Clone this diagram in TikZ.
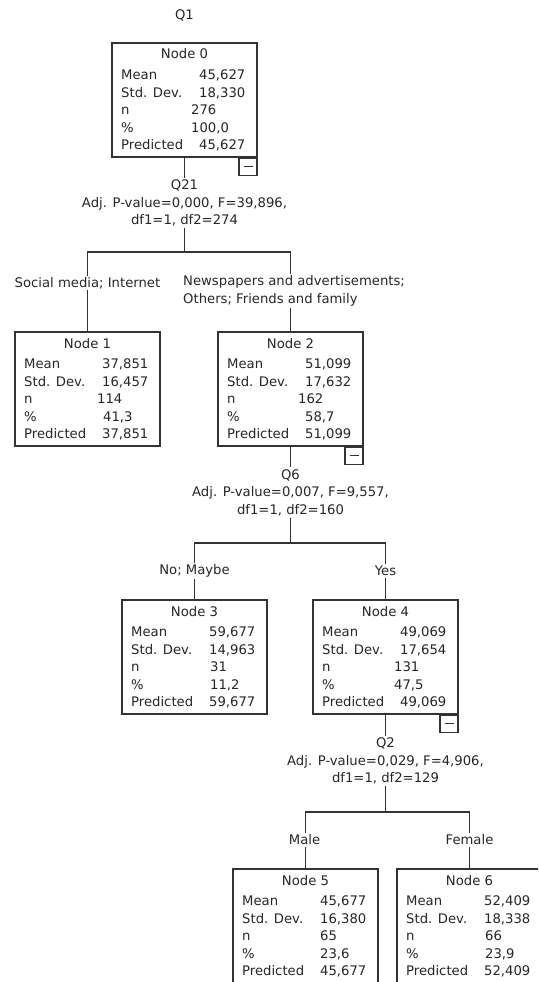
\documentclass[tikz,border=0pt]{standalone}
\usepackage{fontspec}
\setmainfont{DejaVu Sans}
\definecolor{ink}{HTML}{262626}
\definecolor{edge}{HTML}{333333}
\newcommand\fs{\fontsize{13.2}{17.5}\selectfont}
\tikzset{
  box/.style={draw=edge, line width=1.4pt, fill=white, minimum width=145pt, minimum height=114pt, inner sep=0pt},
  minbox/.style={draw=edge, line width=1.4pt, fill=white, minimum width=18pt, minimum height=17pt, inner sep=0pt},
  txt/.style={text=ink, inner sep=0pt, font=\fs},
  lbl/.style={text=ink, inner sep=1.5pt, font=\fs},
  split/.style={text=ink, inner sep=2pt, font=\fs, align=center},
  conn/.style={draw=edge, line width=1.4pt},
}
% #1 number, #2 left, #3 top, #4 mean, #5 sd, #6 n x-offset, #7 n, #8 pct x-offset, #9 pct
\newcommand\TNode[9]{%
  \node[box] (n#1) at ({#2+72.5},{#3+57}) {};
  \node[txt, anchor=base] (n#1t) at ({#2+72.5},{#3+16}) {Node #1};
  \node[txt, anchor=base west] (n#1a) at ({#2+9},{#3+36}) {Mean};
  \node[txt, anchor=base west] (n#1b) at ({#2+9},{#3+54}) {Std. Dev.};
  \node[txt, anchor=base west] (n#1c) at ({#2+9},{#3+71}) {n};
  \node[txt, anchor=base west] (n#1d) at ({#2+9},{#3+89}) {\%};
  \node[txt, anchor=base west] (n#1e) at ({#2+9},{#3+106}) {Predicted};
  \node[txt, anchor=base west] (n#1f) at ({#2+87},{#3+36}) {#4};
  \node[txt, anchor=base west] (n#1g) at ({#2+87},{#3+54}) {#5};
  \node[txt, anchor=base west] (n#1h) at ({#2+#6},{#3+71}) {#7};
  \node[txt, anchor=base west] (n#1i) at ({#2+#8},{#3+89}) {#9};
  \node[txt, anchor=base west] (n#1j) at ({#2+87},{#3+106}) {#4};
}
\begin{document}
\begin{tikzpicture}[x=1pt, y=-1pt]
\useasboundingbox (0,0) rectangle (538,982);
\clip (0,0) rectangle (538,982);

\node[txt] (q1) at (184.5,15) {Q1};

\TNode{0}{112}{43}{45,627}{18,330}{79}{276}{79}{100,0}
\TNode{1}{15}{332}{37,851}{16,457}{82}{114}{88}{41,3}
\TNode{2}{218}{332}{51,099}{17,632}{80}{162}{87}{58,7}
\TNode{3}{122}{600}{59,677}{14,963}{88}{31}{88}{11,2}
\TNode{4}{313}{600}{49,069}{17,654}{81}{131}{81}{47,5}
\TNode{5}{233}{869}{45,677}{16,380}{87}{65}{87}{23,6}
\TNode{6}{397}{869}{52,409}{18,338}{88}{66}{88}{23,9}

\foreach \k in {0,2,4}{
  \node[minbox, anchor=north east] (n\k m) at (n\k.south east) {\color{edge}\rule{9pt}{0.9pt}};
}

% split 0
\node[split] (s0) at (184.5,203) {Q21\\Adj. P-value=0,000, F=39,896,\\df1=1, df2=274};
\coordinate (h0) at (184.5,252);
\node[lbl] (b1) at (87.5,283) {Social media; Internet};
\node[lbl, anchor=north west, align=left] (b2) at (181.5,274) {Newspapers and advertisements;\\Others; Friends and family};
\draw[conn] (n0.south) -- (s0.north);
\draw[conn] (s0.south) -- (h0);
\draw[conn] (n1.north |- b1.north) |- (h0) -| (n2.north |- b2.north);
\draw[conn] (n1.north |- b1.south) -- (n1.north);
\draw[conn] (n2.north |- b2.south) -- (n2.north);

% split 2
\node[split] (s2) at (290.5,492.5) {Q6\\Adj. P-value=0,007, F=9,557,\\df1=1, df2=160};
\coordinate (h2) at (290.5,543);
\node[lbl] (b3) at (194.5,571) {No; Maybe};
\node[lbl] (b4) at (385.5,571) {Yes};
\draw[conn] (n2.south) -- (s2.north);
\draw[conn] (s2.south) -- (h2);
\draw[conn] (n3.north |- b3.north) |- (h2) -| (n4.north |- b4.north);
\draw[conn] (n3.north |- b3.south) -- (n3.north);
\draw[conn] (n4.north |- b4.south) -- (n4.north);

% split 4
\node[split] (s4) at (385.5,761) {Q2\\Adj. P-value=0,029, F=4,906,\\df1=1, df2=129};
\coordinate (h4) at (385.5,812);
\node[lbl] (b5) at (304.5,840) {Male};
\node[lbl] (b6) at (469.5,840) {Female};
\draw[conn] (n4.south) -- (s4.north);
\draw[conn] (s4.south) -- (h4);
\draw[conn] (n5.north |- b5.north) |- (h4) -| (n6.north |- b6.north);
\draw[conn] (n5.north |- b5.south) -- (n5.north);
\draw[conn] (n6.north |- b6.south) -- (n6.north);
\end{tikzpicture}
\end{document}
